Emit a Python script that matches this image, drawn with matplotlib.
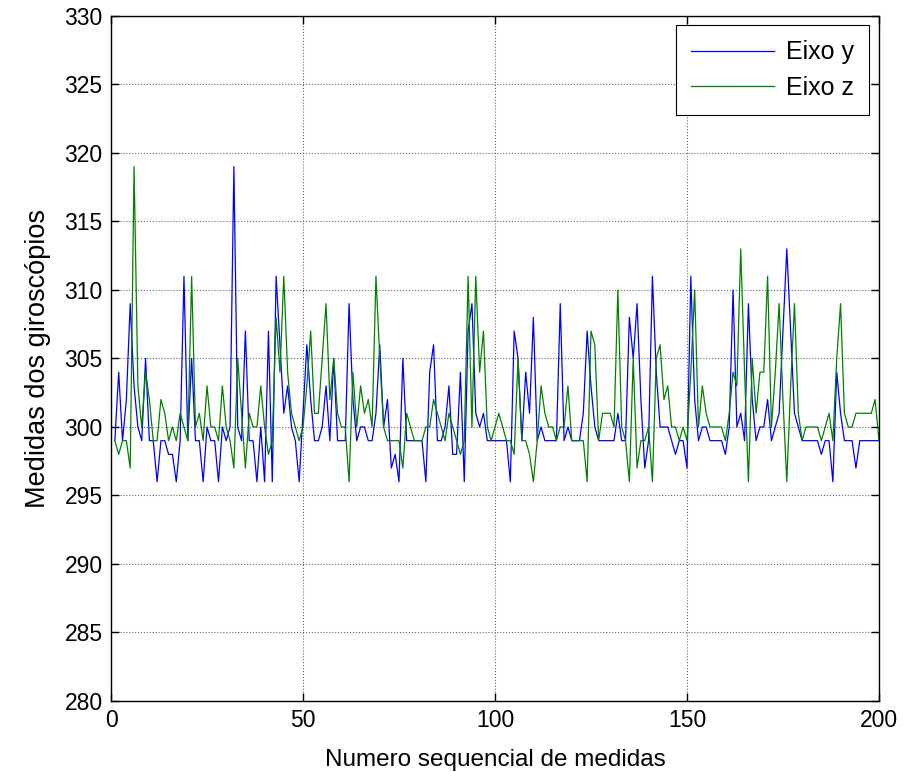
import matplotlib
matplotlib.use("Agg")
import matplotlib.pyplot as plt
import numpy as np

plt.rcParams['font.family'] = ['Liberation Sans', 'DejaVu Sans']

eixo_y = [
    299, 304, 299, 302, 309, 303, 300, 299, 305, 299,
    299, 296, 299, 299, 298, 298, 296, 299, 311, 299,
    305, 299, 299, 296, 300, 299, 299, 296, 300, 299,
    300, 319, 300, 299, 307, 299, 299, 296, 300, 296,
    307, 296, 311, 306, 301, 303, 300, 299, 296, 301,
    306, 302, 299, 299, 300, 303, 299, 305, 299, 299,
    299, 309, 302, 299, 300, 300, 299, 299, 301, 306,
    300, 302, 297, 298, 296, 305, 299, 299, 299, 299,
    299, 296, 304, 306, 299, 299, 300, 303, 298, 298,
    304, 296, 307, 309, 301, 300, 301, 299, 299, 299,
    299, 299, 299, 296, 307, 305, 299, 304, 301, 308,
    299, 300, 299, 299, 299, 299, 309, 299, 300, 299,
    299, 299, 301, 307, 303, 300, 299, 299, 299, 299,
    299, 301, 299, 299, 308, 305, 309, 302, 297, 299,
    311, 304, 300, 300, 300, 299, 298, 299, 299, 297,
    311, 302, 299, 300, 300, 299, 299, 299, 299, 298,
    300, 310, 300, 301, 299, 309, 302, 299, 300, 300,
    302, 299, 300, 301, 307, 313, 307, 301, 300, 299,
    299, 299, 299, 299, 298, 299, 299, 296, 304, 301,
    299, 299, 299, 297, 299, 299, 299, 299, 299, 299,
]

eixo_z = [
    299, 298, 299, 299, 297, 319, 303, 300, 304, 302,
    299, 299, 302, 301, 299, 300, 299, 301, 300, 299,
    311, 300, 301, 299, 303, 300, 300, 299, 303, 300,
    299, 297, 305, 301, 297, 301, 300, 300, 303, 300,
    298, 299, 308, 304, 311, 304, 301, 300, 299, 300,
    303, 307, 301, 301, 305, 309, 302, 305, 301, 300,
    300, 296, 304, 300, 303, 301, 302, 300, 311, 305,
    300, 299, 299, 299, 299, 297, 301, 300, 299, 299,
    299, 300, 300, 302, 301, 300, 299, 301, 300, 299,
    298, 299, 311, 300, 311, 304, 307, 300, 299, 300,
    301, 300, 299, 299, 298, 305, 299, 299, 298, 296,
    299, 303, 301, 300, 300, 299, 300, 300, 303, 299,
    299, 299, 299, 296, 307, 306, 299, 301, 301, 301,
    300, 310, 300, 299, 296, 305, 297, 299, 299, 300,
    296, 305, 306, 302, 303, 300, 300, 299, 300, 299,
    304, 310, 300, 303, 301, 300, 300, 300, 300, 299,
    301, 304, 303, 313, 304, 296, 305, 301, 304, 304,
    311, 300, 304, 309, 302, 296, 303, 309, 301, 299,
    300, 300, 300, 300, 299, 300, 301, 299, 305, 309,
    301, 300, 300, 301, 301, 301, 301, 301, 302, 299,
]

x_ticks = [0, 50, 100, 150, 200]
y_ticks = [280, 285, 290, 295, 300, 305, 310, 315, 320, 325, 330]
series_labels = ["Eixo y", "Eixo z"]
x_label = "Numero sequencial de medidas"
y_label = "Medidas dos giroscópios"

x = np.arange(1, len(eixo_y) + 1)

fig = plt.figure(figsize=(9.04, 7.72), dpi=100)
ax = fig.add_axes([0.1228, 0.0920, 0.8495, 0.8873])

ax.plot(x, eixo_y, color='#0000FF', lw=0.9, label=series_labels[0])
ax.plot(x, eixo_z, color='#008000', lw=0.9, label=series_labels[1])

ax.set_xlim(0, 200)
ax.set_ylim(280, 330)
ax.set_xticks(x_ticks)
ax.set_yticks(y_ticks)
ax.grid(True, linestyle=':', color='#666666', linewidth=0.8)
ax.tick_params(direction='in', length=6, width=1, top=True, right=True,
               labelsize=16.5, colors='black', pad=6)
for s in ax.spines.values():
    s.set_linewidth(1.0)
    s.set_color('black')

ax.set_xlabel(x_label, fontsize=17.5, labelpad=12)
ax.set_ylabel(y_label, fontsize=19.5, labelpad=10)

leg = ax.legend(loc='upper right', fontsize=18, frameon=True, fancybox=False,
                edgecolor='black', framealpha=1, handlelength=3.3,
                borderaxespad=0.38, borderpad=0.6, labelspacing=0.45,
                handletextpad=0.5)
leg.get_frame().set_linewidth(0.8)

fig.savefig("out.png", dpi=100)
